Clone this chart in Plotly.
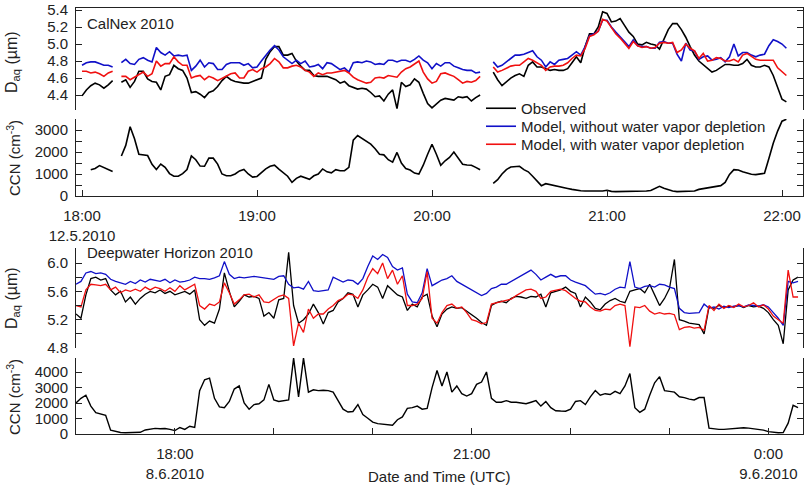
import numpy as np
import plotly.graph_objects as go

# ---------------- CalNex 2010 (minutes after 18:00 UTC, 12.5.2010) ----------------
calnex_seg_bounds = [(0.0, 10.5), (13.5, 136.5), (141.0, 241.5)]
calnex_step = 1.5

calnex_obs = [
    [4.39, 4.46, 4.51, 4.54, 4.52, 4.48, 4.52, 4.57],
    [4.55, 4.58, 4.49, 4.56, 4.68, 4.68, 4.59, 4.56, 4.55, 4.46,
     4.62, 4.64, 4.75, 4.71, 4.69, 4.60, 4.43, 4.44, 4.41, 4.37,
     4.43, 4.45, 4.50, 4.57, 4.62, 4.58, 4.56, 4.55, 4.54, 4.54,
     4.56, 4.58, 4.60, 4.82, 4.91, 4.97, 4.97, 4.87, 4.87, 4.89,
     4.80, 4.74, 4.69, 4.69, 4.63, 4.62, 4.62, 4.62, 4.60, 4.58,
     4.54, 4.56, 4.51, 4.49, 4.47, 4.48, 4.47, 4.43, 4.38, 4.39,
     4.33, 4.41, 4.46, 4.24, 4.55, 4.50, 4.52, 4.59, 4.55, 4.42,
     4.30, 4.25, 4.30, 4.34, 4.36, 4.35, 4.34, 4.38, 4.37, 4.38,
     4.33, 4.37, 4.40],
    [4.67, 4.58, 4.51, 4.56, 4.60, 4.63, 4.65, 4.62, 4.75, 4.79,
     4.73, 4.73, 4.71, 4.69, 4.70, 4.69, 4.69, 4.71, 4.78, 4.85,
     4.78, 4.97, 5.12, 5.12, 5.20, 5.38, 5.36, 5.26, 5.27, 5.30,
     5.22, 5.14, 5.09, 5.00, 4.99, 5.02, 5.00, 4.99, 4.94, 5.05,
     5.17, 5.24, 5.24, 5.17, 5.08, 4.97, 4.87, 4.80, 4.76, 4.72,
     4.67, 4.69, 4.72, 4.76, 4.76, 4.75, 4.75, 4.77, 4.82, 4.75,
     4.73, 4.73, 4.75, 4.73, 4.63, 4.48, 4.35, 4.32],
]
calnex_model_nodep = [
    [4.75, 4.78, 4.79, 4.79, 4.77, 4.75, 4.75, 4.73],
    [4.78, 4.82, 4.77, 4.76, 4.82, 4.84, 4.81, 4.79, 4.96, 4.90,
     4.87, 4.91, 4.86, 4.87, 4.86, 4.87, 4.69, 4.74, 4.81, 4.73,
     4.78, 4.77, 4.70, 4.70, 4.76, 4.78, 4.78, 4.78, 4.75, 4.77,
     4.72, 4.73, 4.80, 4.87, 4.93, 4.98, 4.93, 4.85, 4.81, 4.77,
     4.81, 4.77, 4.80, 4.73, 4.74, 4.76, 4.71, 4.78, 4.77, 4.74,
     4.70, 4.72, 4.67, 4.78, 4.79, 4.78, 4.80, 4.79, 4.76, 4.77,
     4.76, 4.81, 4.81, 4.79, 4.81, 4.81, 4.79, 4.82, 4.86, 4.81,
     4.78, 4.71, 4.77, 4.74, 4.78, 4.78, 4.74, 4.72, 4.70, 4.69,
     4.69, 4.66, 4.67],
    [4.79, 4.73, 4.75, 4.79, 4.82, 4.87, 4.87, 4.88, 4.90, 4.92,
     4.85, 4.81, 4.73, 4.79, 4.76, 4.81, 4.82, 4.83, 4.87, 4.91,
     4.87, 4.97, 5.10, 5.12, 5.15, 5.28, 5.28, 5.20, 5.14, 5.09,
     5.03, 4.97, 5.05, 4.98, 4.97, 4.97, 4.95, 4.95, 5.02, 5.03,
     5.01, 5.01, 4.88, 4.80, 5.01, 4.93, 4.92, 4.82, 4.85, 4.86,
     4.81, 4.82, 4.84, 4.79, 4.85, 5.00, 4.86, 4.90, 4.90, 4.87,
     4.85, 4.87, 4.88, 4.98, 5.05, 5.03, 5.00, 4.95],
]
calnex_model_dep = [
    [4.68, 4.68, 4.66, 4.67, 4.65, 4.62, 4.66, 4.68],
    [4.62, 4.62, 4.58, 4.61, 4.65, 4.67, 4.62, 4.65, 4.80, 4.74,
     4.77, 4.77, 4.85, 4.79, 4.75, 4.75, 4.60, 4.62, 4.63, 4.58,
     4.62, 4.60, 4.57, 4.60, 4.63, 4.65, 4.66, 4.60, 4.60, 4.68,
     4.70, 4.67, 4.71, 4.73, 4.77, 4.83, 4.79, 4.72, 4.72, 4.74,
     4.75, 4.73, 4.69, 4.67, 4.62, 4.66, 4.64, 4.66, 4.66, 4.67,
     4.68, 4.69, 4.66, 4.61, 4.58, 4.56, 4.54, 4.55, 4.60, 4.61,
     4.60, 4.63, 4.62, 4.61, 4.67, 4.71, 4.73, 4.76, 4.80, 4.67,
     4.59, 4.54, 4.56, 4.65, 4.66, 4.64, 4.62, 4.58, 4.54, 4.56,
     4.55, 4.57, 4.62],
    [4.73, 4.67, 4.69, 4.72, 4.74, 4.75, 4.75, 4.79, 4.83, 4.81,
     4.78, 4.75, 4.69, 4.73, 4.74, 4.74, 4.75, 4.78, 4.83, 4.87,
     4.86, 4.95, 5.09, 5.11, 5.15, 5.29, 5.27, 5.19, 5.12, 5.07,
     5.01, 4.95, 5.03, 4.98, 4.96, 4.97, 4.95, 4.96, 5.01, 5.02,
     5.01, 5.02, 4.90, 4.93, 5.00, 4.95, 4.92, 4.83, 4.89, 4.80,
     4.81, 4.84, 4.83, 4.80, 4.80, 4.82, 4.79, 4.87, 4.89, 4.85,
     4.82, 4.81, 4.81, 4.81, 4.81, 4.72, 4.67, 4.63],
]
calnex_ccn = [
    [None, None, 1190, 1250, 1380, 1290, 1200, 1110],
    [1820, 2300, 3150, 2600, 1900, 1880, 1840, 1440, 1200, 1450,
     1300, 1020, 900, 900, 1020, 1200, 1820, 1650, 1360, 1350,
     1720, 1720, 1450, 1000, 920, 920, 1000, 1140, 1210, 1000,
     860, 890, 1060, 1230, 1350, 1400, 1220, 1080, 900, 620,
     800, 900, 820, 760, 920, 1000, 1230, 1100, 1050, 1200,
     1150, 1150, 1300, 2540, 2750, 2620, 2450, 2360, 2150, 1900,
     1870, 1650, 1540, 1980, 1500, 1250, 1180, 1040, 1000, 1400,
     1900, 2350, 1900, 1400, 1600, 1750, 2000, 1700, 1440, 1410,
     1400, 1300, 1190],
    [570, 740, 1000, 1200, 1320, 1340, 1350, 1200, 1100, 900,
     690, 470, 560, 510, 480, 440, 385, 340, 300, 260,
     240, 230, 230, 220, 205, 230, 260, 210, 200, 200,
     200, 200, 210, 230, 230, 230, 250, 330, 440, 350,
     280, 230, 200, 200, 200, 215, 230, 300, 330, 355,
     380, 420, 470, 615, 980, 1200, 1180, 1100, 1040, 990,
     970, 1000, 1030, 1700, 2400, 2950, 3400, 3490],
]
calnex_tickvals = [0, 60, 120, 180, 240]
calnex_ticktext = ["18:00<br>12.5.2010", "19:00", "20:00", "21:00", "22:00"]

# ------------- Deepwater Horizon 2010 (minutes after 17:00 UTC, 8.6.2010) -------------
dwh_step = 3.0
dwh_obs = [
    5.28, 5.22, 5.55, 5.78, 5.80, 5.76, 5.78, 5.62, 5.55, 5.60,
    5.45, 5.52, 5.42, 5.50, 5.56, 5.60, 5.58, 5.62, 5.57, 5.60,
    5.55, 5.58, 5.60, 5.56, 5.62, 5.20, 5.12, 5.18, 5.15, 5.35,
    5.86, 5.60, 5.38, 5.46, 5.55, 5.52, 5.53, 5.50, 5.25, 5.30,
    5.22, 5.48, 5.50, 6.15, 5.40, 5.15, 5.20, 5.28, 5.42, 5.30,
    5.14, 5.30, 5.33, 5.45, 5.50, 5.58, 5.56, 5.38, 5.55, 5.62,
    5.70, 5.66, 5.50, 5.68, 5.62, 5.55, 5.52, 5.33, 5.42, 5.38,
    5.52, 5.56, 5.25, 5.10, 5.28, 5.35, 5.38, 5.36, 5.37, 5.32,
    5.28, 5.22, 5.16, 5.12, 5.40, 5.44, 5.46, 5.44, 5.50, 5.53,
    5.52, 5.50, 5.53, 5.52, 5.56, 5.38, 5.58, 5.60, 5.62,
    5.66, 5.60, 5.57, 5.38, 5.52, 5.45, 5.36, 5.34, 5.42, 5.47,
    5.50, 5.46, 5.44, 5.60, 5.62, 5.64, 5.58, 5.70, 5.55, 5.40,
    5.50, 5.64, 6.05, 5.20, 5.18, 5.15, 5.14, 5.13, 5.00, 5.38,
    5.36, 5.40, 5.37, 5.39, 5.38, 5.40, 5.37, 5.40, 5.38, 5.39,
    5.36, 5.30, 5.20, 5.12, 4.86, 5.62, 5.76, 5.80,
]
dwh_model_nodep = [
    5.70, 5.74, 5.86, 5.88, 5.85, 5.86, 5.84, 5.77, 5.74, 5.72,
    5.70, 5.74, 5.71, 5.76, 5.73, 5.77, 5.75, 5.74, 5.77, 5.72,
    5.76, 5.73, 5.74, 5.76, 5.80, 5.78, 5.78, 5.77, 5.79, 5.82,
    6.02, 5.84, 5.78, 5.80, 5.79, 5.80, 5.81, 5.80, 5.79, 5.78,
    5.77, 5.81, 5.82, 5.70, 5.65, 5.66, 5.63, 5.74, 5.61, 5.60,
    5.61, 5.62, 5.80, 5.77, 5.73, 5.76, 5.75, 5.70, 5.78, 5.95,
    6.10, 6.05, 6.12, 6.08, 5.95, 5.90, 5.93, 5.56, 5.45, 5.44,
    5.58, 5.92, 5.68, 5.72, 5.76, 5.78, 5.82, 5.74, 5.70, 5.66,
    5.62, 5.58, 5.54, 5.57, 5.64, 5.66, 5.70, 5.70, 5.74, 5.78,
    5.82, 5.86, 5.90, 5.84, 5.76, 5.80, 5.84, 5.80, 5.82,
    5.82, 5.76, 5.73, 5.70, 5.68, 5.62, 5.56, 5.57, 5.55, 5.58,
    5.63, 5.66, 5.65, 6.02, 5.66, 5.64, 5.67, 5.68, 5.66, 5.70,
    5.69, 5.66, 5.64, 5.36, 5.30, 5.29, 5.29, 5.30, 5.42, 5.36,
    5.38, 5.35, 5.39, 5.37, 5.39, 5.40, 5.38, 5.41, 5.40, 5.39,
    5.41, 5.38, 5.30, 5.22, 5.12, 5.74, 5.72, 5.74,
]
dwh_model_dep = [
    5.40, 5.38, 5.62, 5.70, 5.69, 5.68, 5.70, 5.62, 5.66, 5.58,
    5.62, 5.60, 5.63, 5.60, 5.66, 5.62, 5.66, 5.64, 5.60, 5.65,
    5.60, 5.68, 5.62, 5.66, 5.70, 5.40, 5.35, 5.42, 5.40, 5.45,
    5.72, 5.58, 5.42, 5.48, 5.55, 5.56, 5.52, 5.55, 5.45, 5.44,
    5.48, 5.53, 5.55, 5.50, 4.83, 5.15, 5.02, 5.35, 5.22, 5.28,
    5.28, 5.35, 5.40, 5.47, 5.50, 5.56, 5.55, 5.50, 5.62, 5.80,
    5.92, 5.85, 6.00, 5.78, 5.90, 5.70, 5.82, 5.40, 5.40, 5.42,
    5.50, 5.88, 5.22, 5.15, 5.30, 5.40, 5.42, 5.36, 5.38, 5.30,
    5.20, 5.18, 5.14, 5.16, 5.42, 5.44, 5.45, 5.47, 5.49, 5.54,
    5.58, 5.62, 5.63, 5.60, 5.50, 5.52, 5.60, 5.62, 5.63,
    5.61, 5.55, 5.50, 5.46, 5.45, 5.38, 5.33, 5.32, 5.35, 5.34,
    5.40, 5.42, 5.40, 4.82, 5.38, 5.37, 5.40, 5.32, 5.28, 5.30,
    5.28, 5.29, 5.27, 5.06, 5.09, 5.10, 5.08, 5.09, 5.05, 5.40,
    5.33, 5.42, 5.36, 5.40, 5.37, 5.42, 5.38, 5.40, 5.44, 5.38,
    5.41, 5.35, 5.25, 5.20, 5.15, 5.90, 5.52, 5.52,
]
dwh_ccn = [
    2000, 2300, 2500, 1800, 1380, 1300, 1200, 250, 150, 100,
    80, 90, 100, 110, 260, 330, 360, 340, 350, 300,
    220, 420, 300, 500, 420, 2800, 3500, 3600, 2300, 1750,
    1700, 2100, 2900, 3100, 2000, 1600, 1900, 1950, 2200, 3200,
    2200, 2100, 2150, 2200, 4900, 2400, 4900, 2700, 2850, 2800,
    2820, 2800, 2700, 2100, 1600, 1420, 1450, 1900, 1250, 1020,
    770, 670, 630, 630, 570, 920, 1100, 1650, 1700, 1800,
    1600, 1650, 2990, 4100, 3100, 4000, 2700, 3100, 2600, 2450,
    2600, 3200, 3350, 4000, 2300, 2050, 2050, 2150, 2050, 2050,
    2000, 1950, 2050, 2150, 1800, 2100, 1700, 1500, 1480,
    1470, 1600, 2100, 2150, 1900, 2400, 2800, 2500, 2600, 2550,
    2750, 2600, 3100, 3900, 1700, 1400, 1600, 2500, 3300, 3700,
    2800, 2750, 2700, 2400, 2350, 2250, 2200, 2350, 2350, 380,
    320, 300, 300, 320, 360, 400, 400, 380, 340, 320,
    250, 150, 100, 80, 90, 700, 1850, 1700,
]
dwh_tickvals = [60, 240, 420]
dwh_ticktext = ["18:00<br>8.6.2010", "21:00", "0:00<br>9.6.2010"]

series_names = ["Observed", "Model, without water vapor depletion", "Model, with water vapor depletion"]
series_colors = ["#000000", "#1010c8", "#f01010"]

# ---------------- assemble ----------------
def joined(values_by_segment):
    t, v = [], []
    for i, ((a, b), vals) in enumerate(zip(calnex_seg_bounds, values_by_segment)):
        ts = np.arange(a, b + 1e-6, calnex_step)
        assert len(ts) == len(vals), (len(ts), len(vals))
        if i:
            t.append(None)
            v.append(None)
        t += list(ts)
        v += list(vals)
    return t, v

dwh_t = list(np.arange(len(dwh_obs)) * dwh_step)
for arr in (dwh_model_nodep, dwh_model_dep, dwh_ccn):
    assert len(arr) == len(dwh_obs), len(arr)

FONT = "Liberation Sans, Arial, Helvetica, sans-serif"
INK = "#222222"
W, H = 812, 487


def px(xp):
    return xp / W


def py(yp):
    return 1 - yp / H


def ydom(top, bottom):
    return [py(bottom), py(top)]


legend_names = ["legend", "legend2", "legend3"]
fig = go.Figure()
for name, color, data, lg in zip(series_names, series_colors,
                                 [calnex_obs, calnex_model_nodep, calnex_model_dep],
                                 legend_names):
    t, v = joined(data)
    fig.add_trace(go.Scatter(x=t, y=v, mode="lines", name=name,
                             line=dict(color=color, width=1.6),
                             xaxis="x", yaxis="y", showlegend=True, legend=lg))
t, v = joined(calnex_ccn)
fig.add_trace(go.Scatter(x=t, y=v, mode="lines", name="CCN",
                         line=dict(color="#000000", width=1.6),
                         xaxis="x2", yaxis="y2", showlegend=False))
for name, color, data in zip(series_names, series_colors,
                             [dwh_obs, dwh_model_nodep, dwh_model_dep]):
    fig.add_trace(go.Scatter(x=dwh_t, y=data, mode="lines", name=name,
                             line=dict(color=color, width=1.3),
                             xaxis="x3", yaxis="y3", showlegend=False))
fig.add_trace(go.Scatter(x=dwh_t, y=dwh_ccn, mode="lines", name="CCN",
                         line=dict(color="#000000", width=1.4),
                         xaxis="x4", yaxis="y4", showlegend=False))

xdom = [px(76), px(803)]
tickfont = dict(family=FONT, size=15, color=INK)
common_y = dict(showline=True, linecolor=INK, linewidth=1, mirror="ticks",
                ticks="inside", ticklen=6, tickcolor=INK, tickwidth=1,
                showgrid=False, zeroline=False, tickfont=tickfont,
                ticklabelstandoff=4, automargin=False, ticklabeloverflow="allow")
common_x = dict(showgrid=False, zeroline=False, tickfont=tickfont, automargin=False,
                ticklabeloverflow="allow")

calnex_range = [-2.06, 247.2]
dwh_range = [0, 441.0]

legend_style = dict(xanchor="left", yanchor="top", bgcolor="rgba(0,0,0,0)",
                    font=dict(family=FONT, size=15, color=INK),
                    itemwidth=30, borderwidth=0)

fig.update_layout(
    width=W, height=H,
    margin=dict(l=0, r=0, t=0, b=0, autoexpand=False),
    paper_bgcolor="white", plot_bgcolor="white",
    font=dict(family=FONT, size=15, color=INK),
    xaxis=dict(domain=xdom, anchor="y", range=calnex_range, side="top",
               showline=True, linecolor=INK, linewidth=1, ticks="",
               showticklabels=False, **common_x),
    yaxis=dict(domain=ydom(8, 110), anchor="x", range=[4.224, 5.424],
               tick0=4.4, dtick=0.2, tickformat=".1f", **common_y),
    xaxis2=dict(domain=xdom, anchor="y2", range=calnex_range,
                showline=True, linecolor=INK, linewidth=1, ticks="inside",
                ticklen=6, tickcolor=INK, tickvals=calnex_tickvals,
                ticktext=calnex_ticktext, ticklabelstandoff=6, **common_x),
    yaxis2=dict(domain=ydom(119, 196), anchor="x2", range=[0, 3500],
                tick0=0, dtick=1000,
                minor=dict(dtick=500, ticks="inside", ticklen=6, tickcolor=INK),
                **common_y),
    xaxis3=dict(domain=xdom, anchor="y3", range=dwh_range, showline=False,
                ticks="", showticklabels=False, **common_x),
    yaxis3=dict(domain=ydom(248, 348), anchor="x3", range=[4.8, 6.212],
                tick0=4.8, dtick=0.4, tickformat=".1f",
                minor=dict(dtick=0.2, ticks="inside", ticklen=6, tickcolor=INK),
                **common_y),
    xaxis4=dict(domain=xdom, anchor="y4", range=dwh_range,
                showline=True, linecolor=INK, linewidth=1, ticks="inside",
                ticklen=6, tickcolor=INK, tickvals=dwh_tickvals,
                ticktext=dwh_ticktext, ticklabelstandoff=6,
                minor=dict(tick0=0, dtick=60, ticks="inside", ticklen=6, tickcolor=INK),
                **common_x),
    yaxis4=dict(domain=ydom(358, 434), anchor="x4", range=[0, 4903],
                tick0=0, dtick=1000, **common_y),
    legend=dict(x=px(481), y=py(92), **legend_style),
    legend2=dict(x=px(481), y=py(110), **legend_style),
    legend3=dict(x=px(481), y=py(128), **legend_style),
    showlegend=True,
)

ann_font = dict(family=FONT, size=15, color=INK)
annotations = [
    dict(text="CalNex 2010", x=px(85), y=py(24), xanchor="left", yanchor="middle"),
    dict(text="Deepwater Horizon 2010", x=px(85), y=py(252), xanchor="left", yanchor="middle"),
    dict(text="D<sub>aq</sub> (µm)", x=px(12), y=py(62), textangle=-90,
         xanchor="center", yanchor="middle", font=dict(family=FONT, size=16, color=INK)),
    dict(text="CCN (cm<sup>-3</sup>)", x=px(13), y=py(158), textangle=-90,
         xanchor="center", yanchor="middle", font=dict(family=FONT, size=15, color=INK)),
    dict(text="D<sub>aq</sub> (µm)", x=px(12), y=py(298), textangle=-90,
         xanchor="center", yanchor="middle", font=dict(family=FONT, size=16, color=INK)),
    dict(text="CCN (cm<sup>-3</sup>)", x=px(13), y=py(397), textangle=-90,
         xanchor="center", yanchor="middle", font=dict(family=FONT, size=15, color=INK)),
    dict(text="Date and Time (UTC)", x=px(439), y=py(476),
         xanchor="center", yanchor="middle"),
]
for a in annotations:
    a.setdefault("font", ann_font)
    a.update(xref="paper", yref="paper", showarrow=False)
fig.update_layout(annotations=annotations)

fig.write_html("out.html",
               config={"displayModeBar": False},
               post_script="document.body.style.margin='0';document.body.style.padding='0';")
